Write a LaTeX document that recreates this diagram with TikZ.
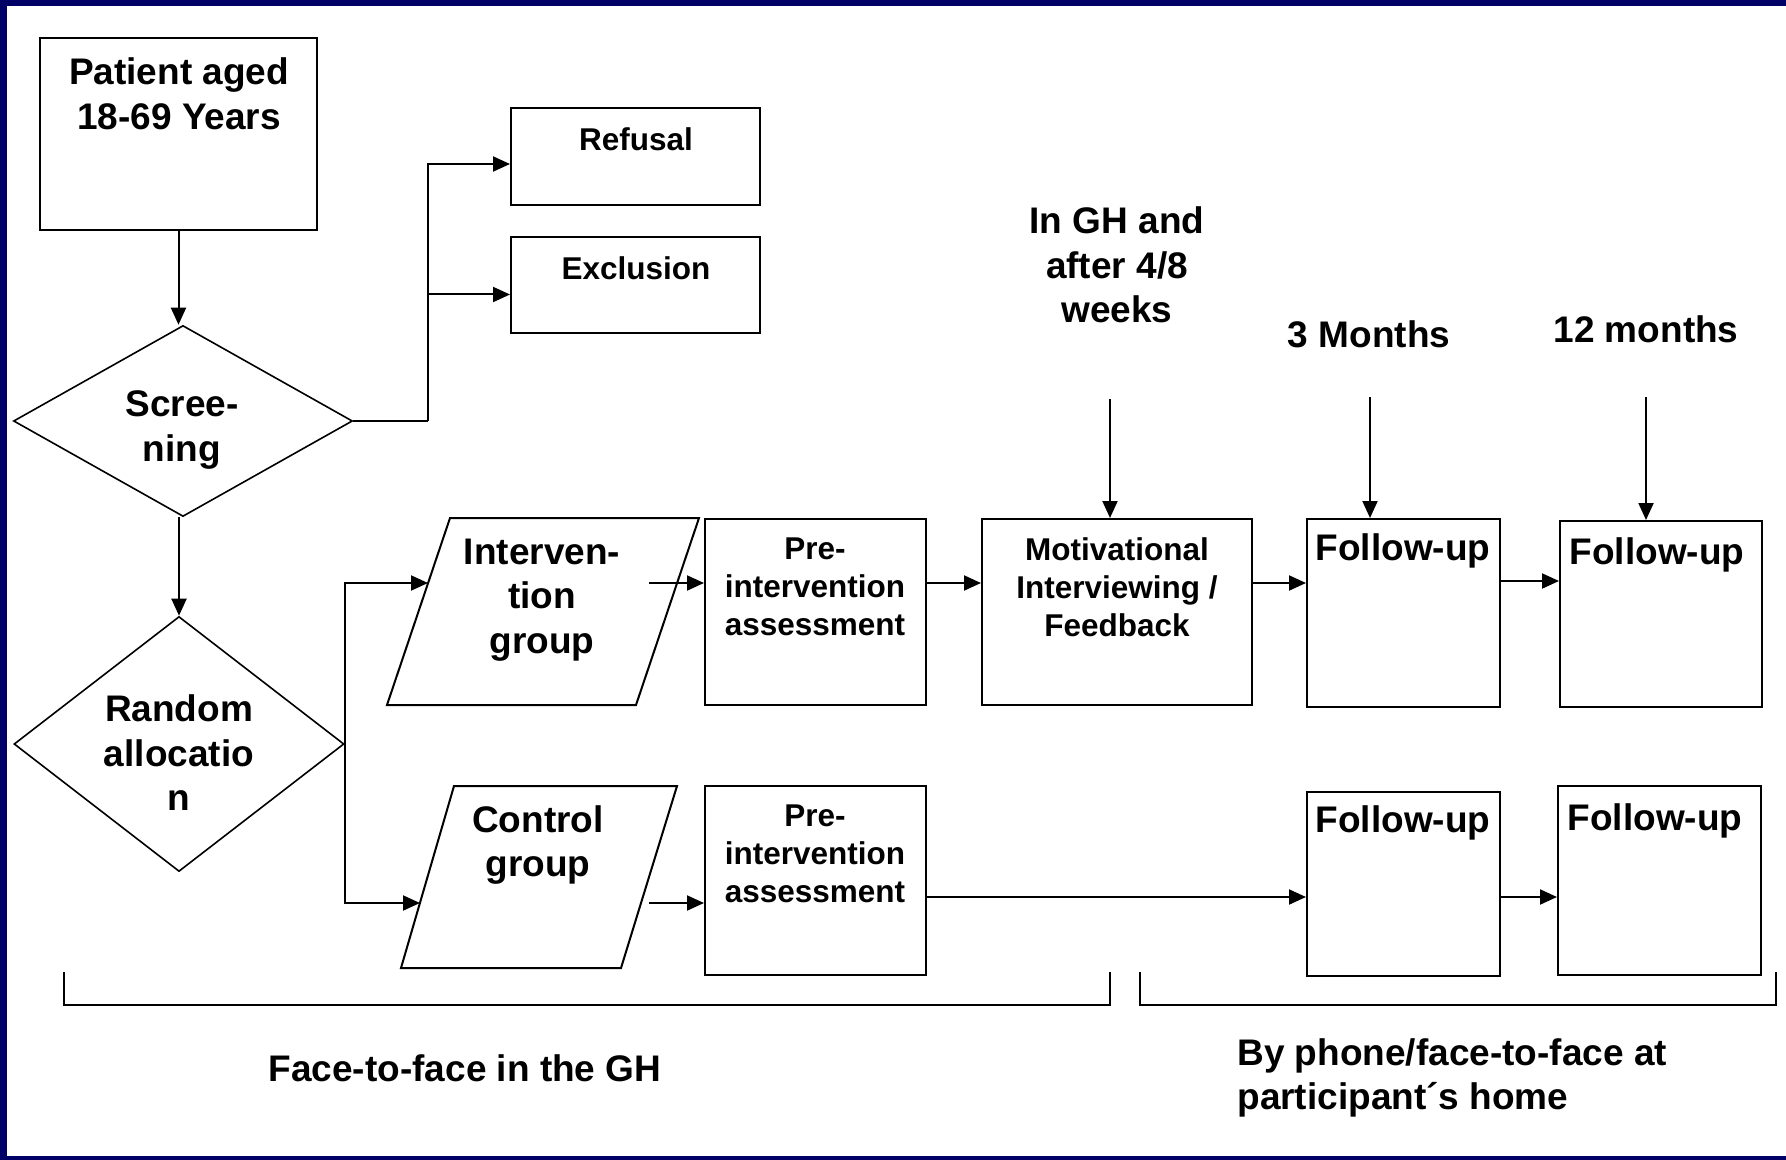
\documentclass[tikz,border=0pt]{standalone}
\usepackage{fontspec}
\setmainfont{Liberation Sans}
\usetikzlibrary{arrows.meta,shapes.geometric,fit}
\definecolor{navy}{RGB}{0,0,102}
\newcommand\fbig{\fontsize{18.5}{22.25}\selectfont\bfseries}
\newcommand\fsmall{\fontsize{15.75}{19}\selectfont\bfseries}
\begin{document}
\begin{tikzpicture}[x=0.5pt,y=-0.5pt,
  boxn/.style={draw, line width=1pt, inner sep=0pt},
  dia/.style={draw, diamond, line width=0.8pt, inner sep=0pt},
  txtb/.style={font=\fbig, align=center, inner sep=0pt},
  txts/.style={font=\fsmall, align=center, inner sep=0pt},
  conn/.style={line width=1pt},
  brk/.style={line width=0.8pt},
  arr/.style={line width=1pt, -{Triangle[length=8.5pt,width=7.5pt]}}]
\useasboundingbox (0,0) rectangle (1786,1160);
\fill[white] (0,0) rectangle (1786,1160);
\fill[navy] (0,0) rectangle (1786,6);
\fill[navy] (0,0) rectangle (7,1160);
\fill[navy] (0,1156) rectangle (1786,1160);
% top boxes
\node[boxn, fit={(40,38) (317,230)}] (pat) {};
\node[txtb] (patt) at (179,94) {Patient aged\\18-69 Years};
\node[boxn, fit={(511,108) (760,205)}] (ref) {};
\node[txts] (reft) at (636,139) {Refusal};
\node[boxn, fit={(511,237) (760,333)}] (exc) {};
\node[txts] (exct) at (636,268) {Exclusion};
% diamonds
\node[dia, minimum width=169.5pt, minimum height=95.5pt] (scr) at (183,421) {};
\node[txtb] (scrt) at (182,430) {Scree-\\ning};
\node[dia, minimum width=165pt, minimum height=127.5pt] (rnd) at (179,744) {};
\node[txtb] (rndt) at (179,753) {Random\\allocatio\\n};
% parallelograms
\draw[line width=1pt] (450,518) -- (699,518) -- (636,705) -- (387,705) -- cycle;
\node[txtb] (intt) at (542,600) {Interven-\\tion\\group};
\draw[line width=1pt] (454,786) -- (677,786) -- (621,968) -- (401,968) -- cycle;
\node[txtb] (ctlt) at (538,845) {Control\\group};
\coordinate (intin) at (428,583);
\coordinate (intout) at (649,583);
\coordinate (ctlin) at (420,903);
\coordinate (ctlout) at (649,903);
% row boxes
\node[boxn, fit={(705,519) (926,705)}] (pre1) {};
\node[txts] (pre1t) at (815,587) {Pre-\\intervention\\assessment};
\node[boxn, fit={(982,519) (1252,705)}] (mot) {};
\node[txts] (mott) at (1117,587) {Motivational\\Interviewing /\\Feedback};
\node[boxn, fit={(1307,519) (1500,707)}] (fu1) {};
\node[txtb] (fu1t) at (1403,551) {Follow-up};
\node[boxn, fit={(1560,521) (1762,707)}] (fu2) {};
\node[txtb] (fu2t) at (1657,555) {Follow-up};
\node[boxn, fit={(705,786) (926,975)}] (pre2) {};
\node[txts] (pre2t) at (815,854) {Pre-\\intervention\\assessment};
\node[boxn, fit={(1307,792) (1500,976)}] (fu3) {};
\node[txtb] (fu3t) at (1403,823) {Follow-up};
\node[boxn, fit={(1558,786) (1761,975)}] (fu4) {};
\node[txtb] (fu4t) at (1655,821) {Follow-up};
% timing labels
\node[txtb] (tgh) at (1117,265) {In GH and\\after 4/8\\weeks};
\node[txtb] (t3) at (1369,334) {3 Months};
\node[txtb] (t12) at (1646,329) {12 months};
\coordinate (a1) at (1110,399);
\coordinate (a2) at (1370,397);
\coordinate (a3) at (1646,397);
% connectors
\draw[arr] (pat.south) -- (pat.south |- scr.north);
\draw[arr] (scr.south -| rnd.north) -- (rnd.north);
\coordinate (j1) at (428,421);
\draw[conn] (scr.east) -- (j1);
\draw[arr] (j1) |- ([yshift=-3.75pt]ref.west);
\draw[arr] (j1) |- ([yshift=-4.75pt]exc.west);
\draw[arr] (rnd.east) |- (intin);
\draw[arr] (rnd.east) |- (ctlin);
\draw[arr] (intout) -- (intout -| pre1.west);
\draw[arr] (ctlout) -- (ctlout -| pre2.west);
\coordinate (r1) at (0,583);
\coordinate (r1b) at (0,581);
\coordinate (r2) at (0,897);
\draw[arr] (pre1.east |- r1) -- (mot.west |- r1);
\draw[arr] (mot.east |- r1) -- (fu1.west |- r1);
\draw[arr] (fu1.east |- r1b) -- (fu2.west |- r1b);
\draw[arr] (pre2.east |- r2) -- (fu3.west |- r2);
\draw[arr] (fu3.east |- r2) -- (fu4.west |- r2);
\draw[arr] (a1) -- (a1 |- mot.north);
\draw[arr] (a2) -- (a2 |- fu1.north);
\draw[arr] (a3) -- (a3 |- fu2.north);
% brackets
\draw[brk] (64,972) -- (64,1005) -- (1110,1005) -- (1110,972);
\draw[brk] (1140,972) -- (1140,1005) -- (1776,1005) -- (1776,972);
\node[txtb] (lf) at (465,1068) {Face-to-face in the GH};
\node[txtb, align=left, anchor=west] (lp) at (1237,1078) {By phone/face-to-face at\\participant´s home};
\end{tikzpicture}
\end{document}
